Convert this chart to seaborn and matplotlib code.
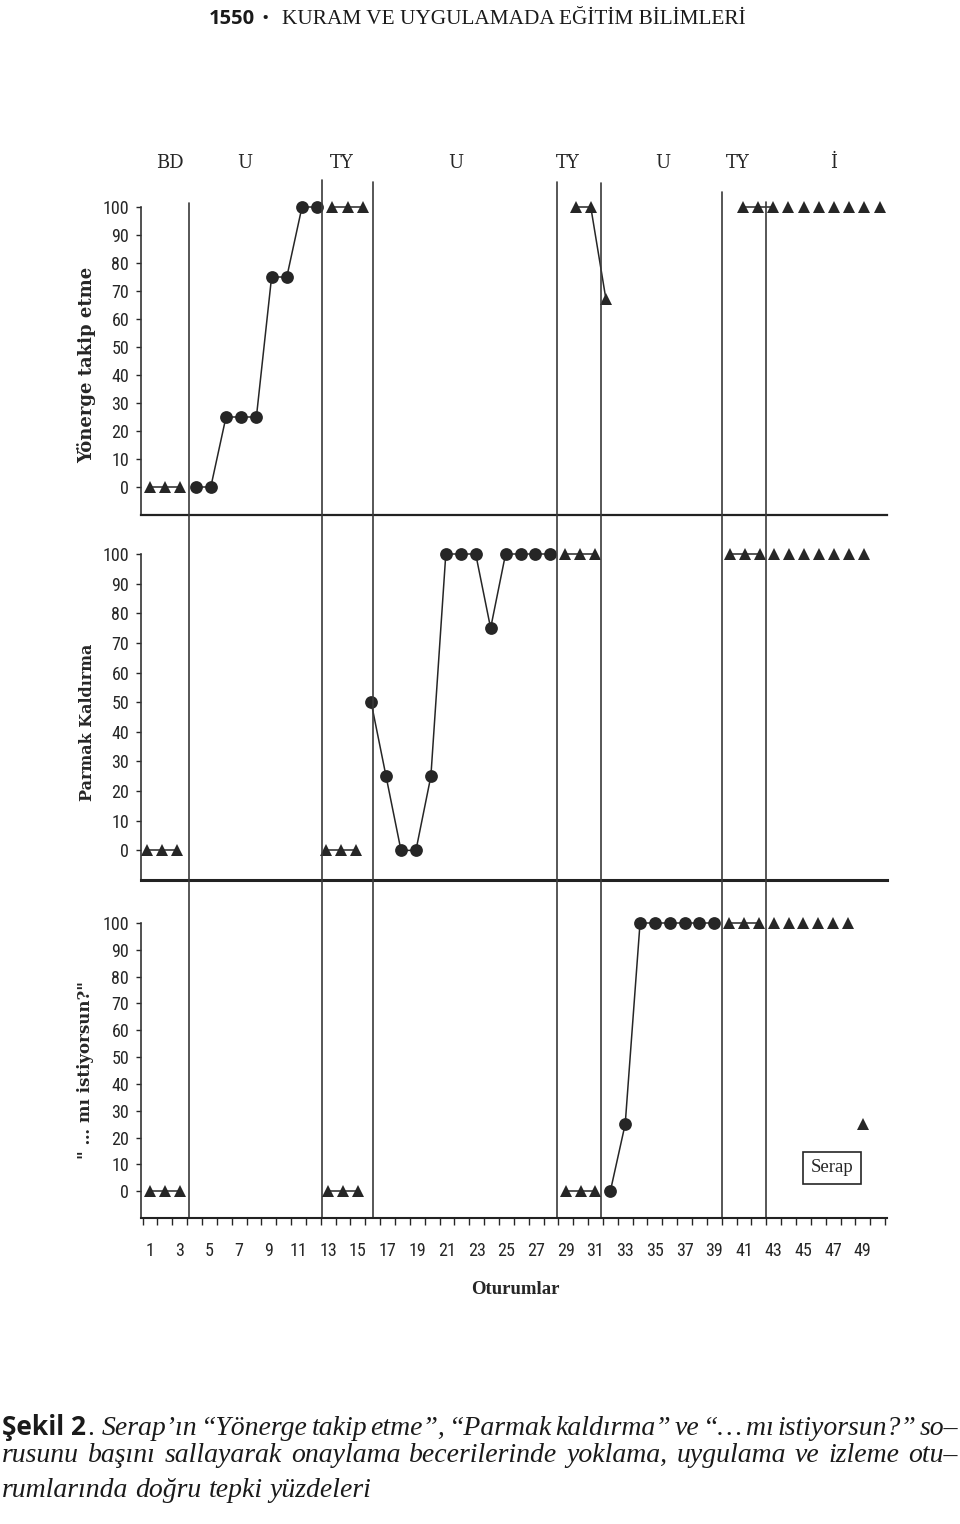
import matplotlib
matplotlib.use("Agg")
import matplotlib.pyplot as plt
import seaborn as sns
import pandas as pd
from matplotlib import font_manager
from matplotlib.transforms import blended_transform_factory

# ------------------------------------------------------------------ data
# x-axis tick labels (sessions)
session_ticks = [1, 3, 5, 7, 9, 11, 13, 15, 17, 19, 21, 23, 25, 27, 29, 31, 33,
                 35, 37, 39, 41, 43, 45, 47, 49]
session_tick_labels = [str(s) for s in session_ticks]

# phase labels and boundaries (in session units)
phase_labels = ["BD", "U", "TY", "U", "TY", "U", "TY", "İ"]
phase_label_pos = [2.35, 7.4, 13.9, 21.6, 29.15, 35.55, 40.6, 47.0]
phase_bounds = [3.6, 12.6, 16.0, 28.4, 31.4, 39.5, 42.5]

# "Yönerge takip etme"
yon_bd_s = [1, 2, 3];            yon_bd_v = [0, 0, 0]
yon_u_s = [4, 5, 6, 7, 8, 9, 10, 11, 12]
yon_u_v = [0, 0, 25, 25, 25, 75, 75, 100, 100]
yon_ty1_s = [13, 14, 15];        yon_ty1_v = [100, 100, 100]
yon_ty2_s = [29, 30, 31];        yon_ty2_v = [100, 100, 67]
yon_ty3_s = [40, 41, 42];        yon_ty3_v = [100, 100, 100]
yon_i_s = [43, 44, 45, 46, 47, 48, 49]
yon_i_v = [100, 100, 100, 100, 100, 100, 100]

# "Parmak Kaldırma"
par_bd_s = [1, 2, 3];            par_bd_v = [0, 0, 0]
par_ty1_s = [13, 14, 15];        par_ty1_v = [0, 0, 0]
par_u_s = [16, 17, 18, 19, 20, 21, 22, 23, 24, 25, 26, 27, 28]
par_u_v = [50, 25, 0, 0, 25, 100, 100, 100, 75, 100, 100, 100, 100]
par_ty2_s = [29, 30, 31];        par_ty2_v = [100, 100, 100]
par_ty3_s = [40, 41, 42];        par_ty3_v = [100, 100, 100]
par_i_s = [43, 44, 45, 46, 47, 48, 49]
par_i_v = [100, 100, 100, 100, 100, 100, 100]

# "... mı istiyorsun?"
ist_bd_s = [1, 2, 3];            ist_bd_v = [0, 0, 0]
ist_ty1_s = [13, 14, 15];        ist_ty1_v = [0, 0, 0]
ist_ty2_s = [29, 30, 31];        ist_ty2_v = [0, 0, 0]
ist_u_s = [32, 33, 34, 35, 36, 37, 38, 39]
ist_u_v = [0, 25, 100, 100, 100, 100, 100, 100]
ist_ty3_s = [40, 41, 42];        ist_ty3_v = [100, 100, 100]
ist_i_s = [43, 44, 45, 46, 47, 48, 49]
ist_i_v = [100, 100, 100, 100, 100, 100, 25]

y_ticks = [0, 10, 20, 30, 40, 50, 60, 70, 80, 90, 100]

# ------------------------------------------------------------------ helpers
def build_df(segments):
    rows = []
    unit = 0
    for s, v, kind, connected in segments:
        for xi, yi in zip(s, v):
            rows.append(dict(session=xi, value=yi, kind=kind, unit=unit))
            if not connected:
                unit += 1
        unit += 1
    return pd.DataFrame(rows)

top_df = build_df([
    (yon_bd_s, yon_bd_v, "tri", True), (yon_u_s, yon_u_v, "dot", True),
    (yon_ty1_s, yon_ty1_v, "tri", True), (yon_ty2_s, yon_ty2_v, "tri", True),
    (yon_ty3_s, yon_ty3_v, "tri", True), (yon_i_s, yon_i_v, "tri", False)])
mid_df = build_df([
    (par_bd_s, par_bd_v, "tri", True), (par_ty1_s, par_ty1_v, "tri", True),
    (par_u_s, par_u_v, "dot", True), (par_ty2_s, par_ty2_v, "tri", True),
    (par_ty3_s, par_ty3_v, "tri", True), (par_i_s, par_i_v, "tri", False)])
bot_df = build_df([
    (ist_bd_s, ist_bd_v, "tri", True), (ist_ty1_s, ist_ty1_v, "tri", True),
    (ist_ty2_s, ist_ty2_v, "tri", True), (ist_u_s, ist_u_v, "dot", True),
    (ist_ty3_s, ist_ty3_v, "tri", True), (ist_i_s, ist_i_v, "tri", False)])

sns.set_theme(style="white")
avail = {f.name for f in font_manager.fontManager.ttflist}


def pick(cands, default="DejaVu Sans"):
    for c in cands:
        if c in avail:
            return c
    return default


NARROW = pick(["Liberation Sans Narrow", "DejaVu Sans Condensed", "Roboto Condensed"])
SERIF = pick(["Liberation Serif", "DejaVu Serif"])
SANSB = pick(["Open Sans", "Noto Sans", "Lato"])
plt.rcParams["font.family"] = ["DejaVu Sans"]

INK = "#262626"
W, H = 960, 1524


def fx(px):
    return px / W


def fy(px):
    return 1 - px / H


fig = plt.figure(figsize=(W / 100, H / 100), dpi=100)
fig.patch.set_facecolor("white")

left = fx(141)
width = 746 / W
panels = [
    dict(df=top_df, rect=[left, fy(515), width, 308 / H], xlim=(0.408, 49.49),
         label="Yönerge takip etme", lx=87, ly=365, lsize=13, spw=1.6),
    dict(df=mid_df, rect=[left, fy(880), width, 326 / H], xlim=(0.598, 50.53),
         label="Parmak Kaldırma", lx=87.5, ly=722, lsize=11.5, spw=2.2),
    dict(df=bot_df, rect=[left, fy(1218), width, 295 / H], xlim=(0.394, 50.63),
         label="\" … mı istiyorsun?\"", lx=86, ly=1070, lsize=12, spw=1.5),
]

axes = []
for p in panels:
    ax = fig.add_axes(p["rect"])
    ax.patch.set_visible(False)
    sns.lineplot(data=p["df"], x="session", y="value", units="unit", style="kind",
                 markers={"dot": "o", "tri": "^"}, dashes=False, estimator=None,
                 sort=False, color=INK, linewidth=1.1, markersize=9.2,
                 markeredgewidth=0, clip_on=False, legend=False, ax=ax)
    ax.set_xlim(*p["xlim"])
    ax.set_ylim(-10, 100)
    ax.set_yticks(y_ticks)
    ax.set_yticklabels([str(t) for t in y_ticks], family=NARROW, fontsize=13,
                       color=INK)
    ax.tick_params(axis="y", direction="out", length=3.5, width=1.0, pad=5,
                   color=INK, left=True)
    ax.set_xlabel("")
    ax.set_ylabel("")
    sns.despine(ax=ax)
    ax.spines["left"].set_color("#333333")
    ax.spines["left"].set_linewidth(1.2)
    ax.spines["bottom"].set_color("#222222")
    ax.spines["bottom"].set_linewidth(p["spw"])
    ax.set_xticks([])
    fig.text(fx(p["lx"]), fy(p["ly"]), p["label"], rotation=90, ha="center",
             va="center", family="DejaVu Serif", weight="bold",
             fontsize=p["lsize"], color=INK)
    axes.append(ax)

ax_bot = axes[2]
ax_bot.set_xticks(session_ticks)
ax_bot.set_xticklabels(session_tick_labels, family=NARROW, fontsize=13, color=INK)
ax_bot.set_xticks([s + 0.5 for s in range(0, 51)], minor=True)
ax_bot.tick_params(axis="x", which="major", length=0, pad=17, bottom=True)
ax_bot.tick_params(axis="x", which="minor", direction="out", length=5, width=1.0,
                   color=INK, bottom=True)
ax_bot.set_xlim(*panels[2]["xlim"])

# phase lines, continuous through all panels
blend = blended_transform_factory(ax_bot.transData, fig.transFigure)
line_tops = [203, 180, 182, 182, 183, 192, 202]
for xb, top in zip(phase_bounds, line_tops):
    ax_bot.plot([xb, xb], [fy(1218), fy(top)], transform=blend, color="#3a3a3a",
                lw=1.2, clip_on=False, zorder=1)

for lab, xp in zip(phase_labels, phase_label_pos):
    ax_bot.text(xp, fy(163), lab, transform=blend, ha="center", va="center",
                family="DejaVu Serif", fontsize=13, color=INK, clip_on=False)

# legend-like box
ax_bot.text(0.926, 0.17, "Serap", transform=ax_bot.transAxes, ha="center",
            va="center", family=SERIF, fontsize=13.5, color=INK,
            bbox=dict(boxstyle="square,pad=0.4", fc="white", ec=INK, lw=1.2))

fig.text(fx(515), fy(1289), "Oturumlar", ha="center", va="center", family=SERIF,
         weight="bold", fontsize=13.5, color=INK)

# ------------------------------------------------------------------ header
fig.canvas.draw()
rend = fig.canvas.get_renderer()


def wpx(t):
    return t.get_window_extent(renderer=rend).width


t1550 = fig.text(fx(209), fy(24), "1550", ha="left", va="baseline",
                 family=SANSB, weight="bold", fontsize=14.5, color="#1a1a1a")
fig.text(fx(265), fy(24), "•", ha="center", va="baseline", family=SANSB,
         fontsize=14, color="#1a1a1a")
thead = fig.text(fx(282), fy(24), "KURAM VE UYGULAMADA EĞİTİM BİLİMLERİ",
                 ha="left", va="baseline", family=SERIF, fontsize=15,
                 color="#1a1a1a")
thead.set_fontsize(15 * 466 / wpx(thead))

# ------------------------------------------------------------------ caption
ITAL = dict(family=SERIF, style="italic", fontsize=20, color="#1a1a1a")


def justify(words, x0, x1, ybase, props, full=True):
    ts = [fig.text(0, fy(ybase), w, ha="left", va="baseline", **props)
          for w in words]
    ws = [wpx(t) for t in ts]
    if full and len(ts) > 1:
        gap = (x1 - x0 - sum(ws)) / (len(ts) - 1)
    else:
        sp = fig.text(0, 0, "a a", **props)
        sp2 = fig.text(0, 0, "aa", **props)
        gap = wpx(sp) - wpx(sp2)
        sp.remove()
        sp2.remove()
    x = x0
    for t, w in zip(ts, ws):
        t.set_x(fx(x))
        x += w + gap


tb = fig.text(fx(2), fy(1435), "Şekil 2", ha="left", va="baseline",
              family=SANSB, weight="bold", fontsize=19, color="#1a1a1a")
xb_end = 2 + wpx(tb)
fig.text(fx(xb_end + 1), fy(1435), ".", ha="left", va="baseline",
         family=SANSB, fontsize=19, color="#1a1a1a")

line1 = "Serap’ın “Yönerge takip etme”, “Parmak kaldırma” ve “… mı istiyorsun?” so–".split()
line2 = "rusunu başını sallayarak onaylama becerilerinde yoklama, uygulama ve izleme otu–".split()
line3 = "rumlarında doğru tepki yüzdeleri".split()
justify(line1, 102, 958, 1435, ITAL)
justify(line2, 2, 958, 1462, ITAL)
justify(line3, 2, 958, 1497, ITAL, full=False)

fig.savefig("out.png", dpi=100, facecolor="white")
